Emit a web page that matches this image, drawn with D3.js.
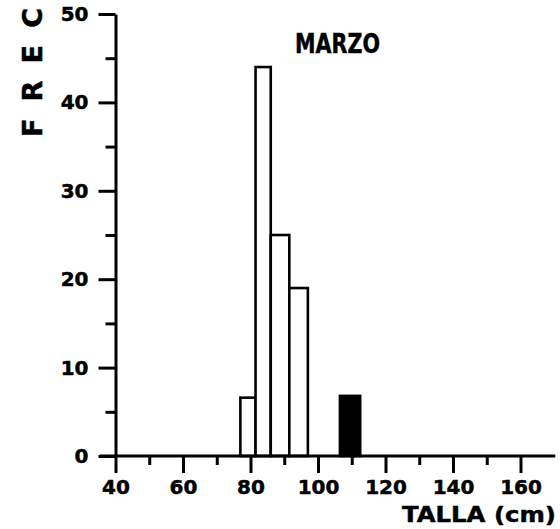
<!DOCTYPE html>
<html>
<head>
<meta charset="utf-8">
<script src="https://cdn.jsdelivr.net/npm/d3@7"></script>
<style>
  html, body { margin: 0; padding: 0; background: #fff; }
  svg { display: block; }
  text { font-family: "DejaVu Sans", "Liberation Sans", sans-serif; font-weight: bold; fill: #000; stroke: #000; stroke-width: 0.5; }
</style>
</head>
<body>
<script>
// Length-frequency histogram, March sample
const binStart = [77, 81.5, 86, 91.5, 106.5];
const binEnd   = [81.5, 86, 91.5, 97, 112.5];
const freq     = [6.6, 44, 25, 19, 6.8];
const solid    = [false, false, false, false, true];

const xMajorTicks = [40, 60, 80, 100, 120, 140, 160];
const xMinorTicks = [50, 70, 90, 110, 130, 150];
const yMajorTicks = [0, 10, 20, 30, 40, 50];
const yMinorTicks = [5, 15, 25, 35, 45];
const xAxisExtent = [35.3, 170.3];

const title = "MARZO";
const xTitle = "TALLA (cm)";
const yTitle = "FREC";

const W = 560, H = 529;
const svg = d3.select("body").append("svg").attr("width", W).attr("height", H);

const x = d3.scaleLinear().domain([40, 160]).range([115.5, 520.5]);
const y = d3.scaleLinear().domain([0, 50]).range([456, 14]);

// bars
const bars = binStart.map((s, i) => ({ s, e: binEnd[i], f: freq[i], solid: solid[i] }));
svg.append("g").selectAll("rect").data(bars).join("rect")
  .attr("x", d => x(d.s))
  .attr("y", d => y(d.f))
  .attr("width", d => x(d.e) - x(d.s))
  .attr("height", d => y(0) - y(d.f))
  .attr("fill", d => d.solid ? "#000" : "#fff")
  .attr("stroke", "#000")
  .attr("stroke-width", 2.6);

// x axis line
svg.append("line")
  .attr("x1", x(xAxisExtent[0])).attr("x2", x(xAxisExtent[1]))
  .attr("y1", y(0)).attr("y2", y(0))
  .attr("stroke", "#000").attr("stroke-width", 3);

const gx = svg.append("g").attr("transform", `translate(0,${y(0)})`)
  .call(d3.axisBottom(x).tickValues(xMajorTicks).tickSize(17).tickSizeOuter(0).tickPadding(7).tickFormat(d3.format("d")));
const gxm = svg.append("g").attr("transform", `translate(0,${y(0)})`)
  .call(d3.axisBottom(x).tickValues(xMinorTicks).tickSize(9).tickSizeOuter(0).tickFormat(""));

const gy = svg.append("g").attr("transform", `translate(${x(40)},0)`)
  .call(d3.axisLeft(y).tickValues(yMajorTicks).tickSize(17).tickSizeOuter(0).tickPadding(10).tickFormat(d3.format("d")));
const gym = svg.append("g").attr("transform", `translate(${x(40)},0)`)
  .call(d3.axisLeft(y).tickValues(yMinorTicks).tickSize(10).tickSizeOuter(0).tickFormat(""));

[gx, gxm, gym].forEach(g => g.select(".domain").remove());
gy.select(".domain").attr("stroke", "#000").attr("stroke-width", 3);
svg.selectAll(".tick line").attr("stroke", "#000").attr("stroke-width", 3);
svg.selectAll(".tick text")
  .attr("font-size", 20)
  .attr("font-family", "DejaVu Sans")
  .attr("font-weight", "bold")
  .attr("fill", "#000");

// titles
svg.append("text")
  .attr("x", 295).attr("y", 53)
  .attr("font-size", 27)
  .attr("textLength", 85).attr("lengthAdjust", "spacingAndGlyphs")
  .text(title);

svg.append("text")
  .attr("x", 556).attr("y", 522)
  .attr("text-anchor", "end")
  .attr("font-size", 22)
  .attr("textLength", 154).attr("lengthAdjust", "spacingAndGlyphs")
  .text(xTitle);

svg.append("text")
  .attr("transform", "translate(42,137) rotate(-90)")
  .attr("font-size", 27)
  .attr("textLength", 129).attr("lengthAdjust", "spacing")
  .text(yTitle);
</script>
</body>
</html>
